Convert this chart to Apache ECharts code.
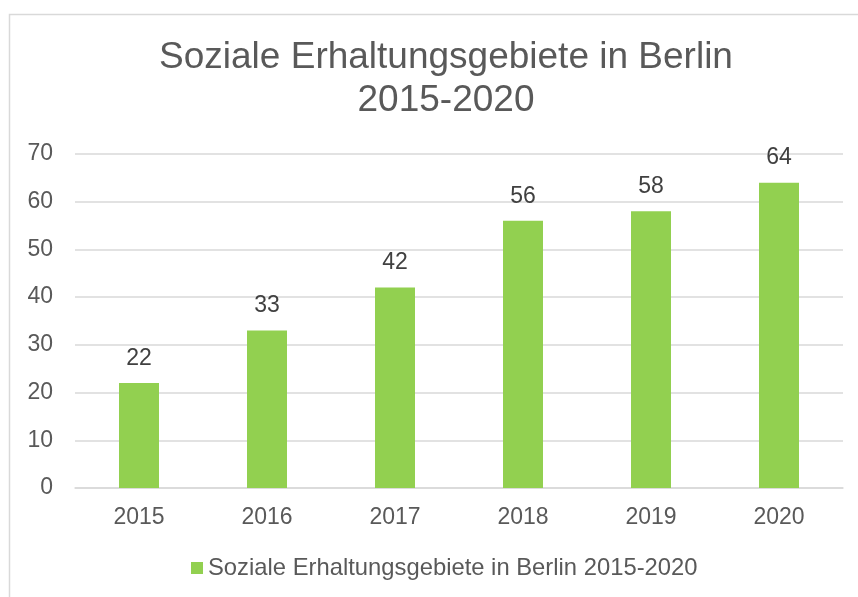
<!DOCTYPE html>
<html>
<head>
<meta charset="utf-8">
<script src="https://cdn.jsdelivr.net/npm/echarts@6/dist/echarts.min.js"></script>
<style>
  html, body { margin: 0; padding: 0; background: #fff; }
  #main { width: 858px; height: 597px; }
</style>
</head>
<body>
<div id="main"></div>
<script>
// Daten
const years = ['2015', '2016', '2017', '2018', '2019', '2020']
const gebiete = [22, 33, 42, 56, 58, 64]
const seriesName = 'Soziale Erhaltungsgebiete in Berlin 2015-2020'

const font = 'Liberation Sans, Arial, sans-serif'
const grau = '#595959'

const myChart = echarts.init(document.getElementById('main'))
myChart.setOption({
  animation: false,
  textStyle: { fontFamily: font },
  graphic: [{
    type: 'rect',
    shape: { x: 9.5, y: 14.5, width: 900, height: 700 },
    style: { fill: 'none', stroke: '#d9d9d9', lineWidth: 1.5 },
    silent: true
  }],
  title: {
    text: 'Soziale Erhaltungsgebiete in Berlin\n2015-2020',
    left: 441,
    top: 31,
    textAlign: 'center',
    textStyle: { fontFamily: font, fontSize: 37, fontWeight: 'normal', color: grau, lineHeight: 43 }
  },
  legend: {
    data: [seriesName],
    left: 191,
    top: 556,
    padding: 0,
    itemWidth: 12,
    itemHeight: 12,
    itemGap: 5,
    icon: 'rect',
    textStyle: { fontFamily: font, fontSize: 23.8, color: grau, padding: [0, 0, 0, 0] }
  },
  grid: { left: 75, right: 15, top: 154, bottom: 109, containLabel: false },
  xAxis: {
    type: 'category',
    data: years,
    axisLine: { lineStyle: { color: '#d9d9d9', width: 1.5 } },
    axisTick: { show: false },
    axisLabel: { fontFamily: font, fontSize: 23, color: grau, margin: 18 }
  },
  yAxis: {
    type: 'value',
    min: 0,
    max: 70,
    interval: 10,
    axisLine: { show: false },
    axisTick: { show: false },
    splitLine: { lineStyle: { color: '#d9d9d9', width: 1.5 } },
    axisLabel: { fontFamily: font, fontSize: 23, color: grau, margin: 22 }
  },
  series: [{
    name: seriesName,
    type: 'bar',
    data: gebiete,
    barWidth: 40,
    itemStyle: { color: '#92D050' },
    label: {
      show: true,
      position: 'top',
      distance: 13,
      fontFamily: font,
      fontSize: 23,
      color: '#404040'
    }
  }]
})
</script>
</body>
</html>
